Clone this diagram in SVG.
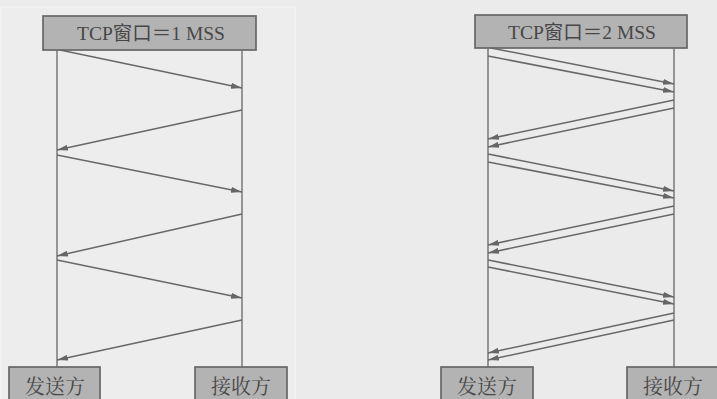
<svg xmlns="http://www.w3.org/2000/svg" width="717" height="399" viewBox="0 0 717 399">
<style>
.box{fill:#b3b3b3;stroke:#676767;stroke-width:1.7}
.t{font-family:"Liberation Serif","Noto Sans CJK SC",serif;font-size:19.5px;fill:#474747;text-anchor:middle}
.b{font-family:"Noto Serif CJK SC","Noto Sans CJK SC",serif;font-size:20px;fill:#474747;text-anchor:middle}
.life{stroke:#707070;stroke-width:1.4;fill:none}
.msg{stroke:#686868;stroke-width:1.5;fill:none;marker-end:url(#ah)}
</style>
<defs>
<marker id="ah" viewBox="0 0 11 6" refX="11" refY="3" markerWidth="11" markerHeight="6" markerUnits="userSpaceOnUse" orient="auto">
<path d="M0,0 L11,3 L0,6 z" fill="#666666"/>
</marker>
</defs>
<rect width="717" height="399" fill="#ebebeb"/>
<rect x="1" y="7" width="294" height="400" fill="#ededed" stroke="#f7f7f7" stroke-width="1"/>

<g id="left-window"><rect class="box" x="43" y="16" width="213" height="34"/><text class="t" x="151" y="40">TCP窗口＝1 MSS</text></g>
<g id="right-window"><rect class="box" x="475" y="15" width="212" height="33"/><text class="t" x="582" y="39">TCP窗口＝2 MSS</text></g>
<g id="left-sender"><rect class="box" x="9" y="367" width="91" height="40"/><text class="b" x="55" y="394">发送方</text></g>
<g id="left-receiver"><rect class="box" x="195" y="367" width="92" height="40"/><text class="b" x="241" y="394">接收方</text></g>
<g id="right-sender"><rect class="box" x="441" y="367" width="92" height="40"/><text class="b" x="487" y="394">发送方</text></g>
<g id="right-receiver"><rect class="box" x="627" y="367" width="95" height="40"/><text class="b" x="673" y="394">接收方</text></g>

<g id="connectors">
<line class="life" x1="57" y1="50" x2="57" y2="367"/>
<line class="life" x1="242" y1="50" x2="242" y2="367"/>
<line class="life" x1="488" y1="48" x2="488" y2="367"/>
<line class="life" x1="674" y1="48" x2="674" y2="367"/>

<line class="msg" x1="60" y1="50" x2="242" y2="88"/>
<line class="msg" x1="242" y1="110" x2="57" y2="150"/>
<line class="msg" x1="57" y1="155" x2="242" y2="192"/>
<line class="msg" x1="242" y1="214" x2="57" y2="256"/>
<line class="msg" x1="57" y1="260" x2="242" y2="298"/>
<line class="msg" x1="242" y1="320" x2="57" y2="360"/>

<line class="msg" x1="491" y1="48" x2="674" y2="84"/>
<line class="msg" x1="488" y1="56" x2="674" y2="92"/>
<line class="msg" x1="674" y1="100" x2="488" y2="139"/>
<line class="msg" x1="674" y1="108" x2="488" y2="147"/>
<line class="msg" x1="488" y1="154" x2="674" y2="191"/>
<line class="msg" x1="488" y1="162" x2="674" y2="198"/>
<line class="msg" x1="674" y1="206" x2="488" y2="245"/>
<line class="msg" x1="674" y1="214" x2="488" y2="253"/>
<line class="msg" x1="488" y1="260" x2="674" y2="297"/>
<line class="msg" x1="488" y1="267" x2="674" y2="304"/>
<line class="msg" x1="674" y1="313" x2="488" y2="353"/>
<line class="msg" x1="674" y1="320" x2="488" y2="360"/>
</g>
</svg>
